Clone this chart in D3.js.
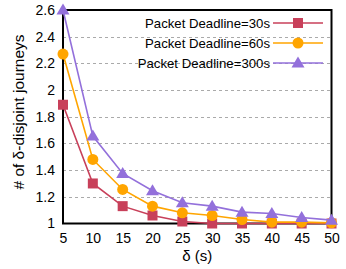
<!DOCTYPE html>
<html>
<head>
<meta charset="utf-8">
<script src="https://cdn.jsdelivr.net/npm/d3@7"></script>
<style>
body { margin: 0; background: #fff; }
text { font-family: "Liberation Sans", Arial, sans-serif; fill: #000; }
</style>
</head>
<body>
<script>
// data
var deltas = [5, 10, 15, 20, 25, 30, 35, 40, 45, 50];
var deadline30 = [1.89, 1.30, 1.13, 1.06, 1.015, 1.0, 1.0, 1.0, 1.0, 1.0];
var deadline60 = [2.27, 1.48, 1.255, 1.13, 1.08, 1.06, 1.03, 1.01, 1.01, 1.005];
var deadline300 = [2.6, 1.655, 1.375, 1.245, 1.155, 1.13, 1.085, 1.075, 1.045, 1.025];
var seriesNames = ["Packet Deadline=30s", "Packet Deadline=60s", "Packet Deadline=300s"];
var yTicks = [1, 1.2, 1.4, 1.6, 1.8, 2, 2.2, 2.4, 2.6];

var series = [
  {name: seriesNames[0], values: deadline30, color: "#c8405a", shape: "square"},
  {name: seriesNames[1], values: deadline60, color: "#ffa500", shape: "circle"},
  {name: seriesNames[2], values: deadline300, color: "#9370db", shape: "triangle"}
];

var width = 346, height = 269;
var margin = {top: 10, right: 14, bottom: 46, left: 63};

var svg = d3.select("body").append("svg")
  .attr("width", width)
  .attr("height", height);

var x = d3.scaleLinear().domain([5, 50]).range([margin.left, width - margin.right - 0.5]);
var y = d3.scaleLinear().domain([1, 2.6]).range([height - margin.bottom + 0.5, margin.top]);

// grid lines
svg.append("g").selectAll("line")
  .data(yTicks.slice(1, -1))
  .enter().append("line")
  .attr("x1", x(5)).attr("x2", x(50))
  .attr("y1", d => Math.round(y(d)) + 0.5).attr("y2", d => Math.round(y(d)) + 0.5)
  .style("stroke", "#aaa")
  .style("stroke-width", 1)
  .style("stroke-dasharray", "3,3");

// axes (no visible tick marks)
var xAxis = svg.append("g")
  .attr("transform", "translate(0," + y(1) + ")")
  .call(d3.axisBottom(x).tickValues(deltas).tickSize(0).tickPadding(10));
var yAxis = svg.append("g")
  .attr("transform", "translate(" + x(5) + ",0)")
  .call(d3.axisLeft(y).tickValues(yTicks).tickSize(0).tickPadding(8).tickFormat(d3.format("~g")));

[xAxis, yAxis].forEach(a => {
  a.select(".domain").remove();
  a.selectAll("text").style("font-size", "14px").style("font-family", "Liberation Sans, Arial, sans-serif");
});

// frame
svg.append("rect")
  .attr("x", x(5)).attr("y", y(2.6))
  .attr("width", x(50) - x(5)).attr("height", y(1) - y(2.6))
  .style("fill", "none")
  .style("stroke", "#000")
  .style("stroke-width", 2);

var line = d3.line()
  .x((d, i) => x(deltas[i]))
  .y(d => y(d));

function marker(g, shape, color) {
  if (shape === "square") {
    g.append("rect").attr("x", -5).attr("y", -5).attr("width", 10).attr("height", 10).style("fill", color);
  } else if (shape === "circle") {
    g.append("circle").attr("r", 5.5).style("fill", color);
  } else {
    g.append("path").attr("d", "M0,-6.5L6.5,4.5L-6.5,4.5Z").style("fill", color);
  }
}

series.forEach(s => {
  svg.append("path")
    .datum(s.values)
    .attr("d", line)
    .style("fill", "none")
    .style("stroke", s.color)
    .style("stroke-width", 1.6);
  s.values.forEach((v, i) => {
    var g = svg.append("g").attr("transform", "translate(" + x(deltas[i]) + "," + y(v) + ")");
    marker(g, s.shape, s.color);
  });
});

// legend
series.forEach((s, i) => {
  var ly = 23 + i * 20;
  svg.append("text")
    .attr("x", 270).attr("y", ly)
    .attr("dy", "0.35em")
    .style("text-anchor", "end")
    .style("font-size", "13.2px")
    .text(s.name);
  svg.append("line")
    .attr("x1", 273).attr("x2", 323)
    .attr("y1", ly).attr("y2", ly)
    .style("stroke", s.color)
    .style("stroke-width", 1.6);
  var g = svg.append("g").attr("transform", "translate(298," + ly + ")");
  marker(g, s.shape, s.color);
});

// axis titles
svg.append("text")
  .attr("transform", "translate(19,112) rotate(-90)")
  .attr("dy", "0.35em")
  .style("text-anchor", "middle")
  .style("font-size", "15.5px")
  .text("# of δ-disjoint journeys");

svg.append("text")
  .attr("x", (x(5) + x(50)) / 2)
  .attr("y", 261)
  .style("text-anchor", "middle")
  .style("font-size", "15px")
  .text("δ (s)");
</script>
</body>
</html>
